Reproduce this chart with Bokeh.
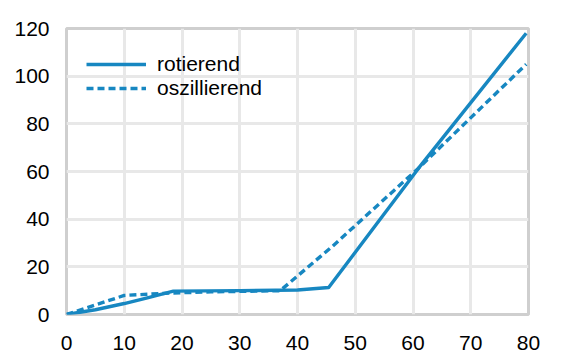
from bokeh.plotting import figure
from bokeh.models import FixedTicker, Range1d, Legend, LegendItem
from bokeh.embed import file_html
from bokeh.resources import INLINE

x_rot = [0, 5, 10, 14, 18.5, 30, 40, 45.4, 61, 79.6]
y_rot = [0, 2, 4.6, 7, 9.8, 10, 10.3, 11.3, 61.5, 118]
x_osz = [0, 10, 18, 25, 37, 46, 61, 79.6]
y_osz = [0, 8, 9, 9.5, 10, 28.5, 61.5, 105]
label_rot = "rotierend"
label_osz = "oszillierend"
x_ticks = [0, 10, 20, 30, 40, 50, 60, 70, 80]
y_ticks = [0, 20, 40, 60, 80, 100, 120]

color = "#1787c1"
font = "Liberation Sans"

p = figure(width=562, height=356, output_backend="svg", toolbar_location=None,
           x_range=Range1d(0, 80), y_range=Range1d(0, 120),
           min_border_left=66, min_border_right=34, min_border_top=28, min_border_bottom=42)
p.background_fill_color = "white"
p.border_fill_color = "white"
p.outline_line_color = "#cfcfcf"
p.outline_line_width = 3

for ax in (p.xaxis[0], p.yaxis[0]):
    ax.axis_line_color = None
    ax.major_tick_line_color = None
    ax.minor_tick_line_color = None
    ax.major_tick_out = 0
    ax.major_tick_in = 0
    ax.major_label_text_font = font
    ax.major_label_text_font_size = "21px"
    ax.major_label_text_color = "black"

p.xaxis.ticker = FixedTicker(ticks=x_ticks)
p.yaxis.ticker = FixedTicker(ticks=y_ticks)
p.xaxis.major_label_standoff = 21
p.yaxis.major_label_standoff = 17

p.xgrid.ticker = FixedTicker(ticks=x_ticks)
p.ygrid.ticker = FixedTicker(ticks=y_ticks)
p.grid.grid_line_color = "#e8e8e8"
p.grid.grid_line_width = 3

r1 = p.line(x_rot, y_rot, line_color=color, line_width=3.4, line_join="round")
r2 = p.line(x_osz, y_osz, line_color=color, line_width=3.4, line_dash="7 4")

legend = Legend(items=[LegendItem(label=label_rot, renderers=[r1]),
                       LegendItem(label=label_osz, renderers=[r2])],
                location="top_left")
legend.margin = 0
legend.padding = 0
legend.spacing = 0
legend.glyph_width = 60
legend.label_standoff = 11
legend.border_line_color = None
legend.background_fill_alpha = 0
legend.label_text_font = font
legend.label_text_font_size = "21px"
legend.label_text_color = "black"
legend.location = (20, 214)
p.add_layout(legend)

open("out.html", "w").write(file_html(p, INLINE))
